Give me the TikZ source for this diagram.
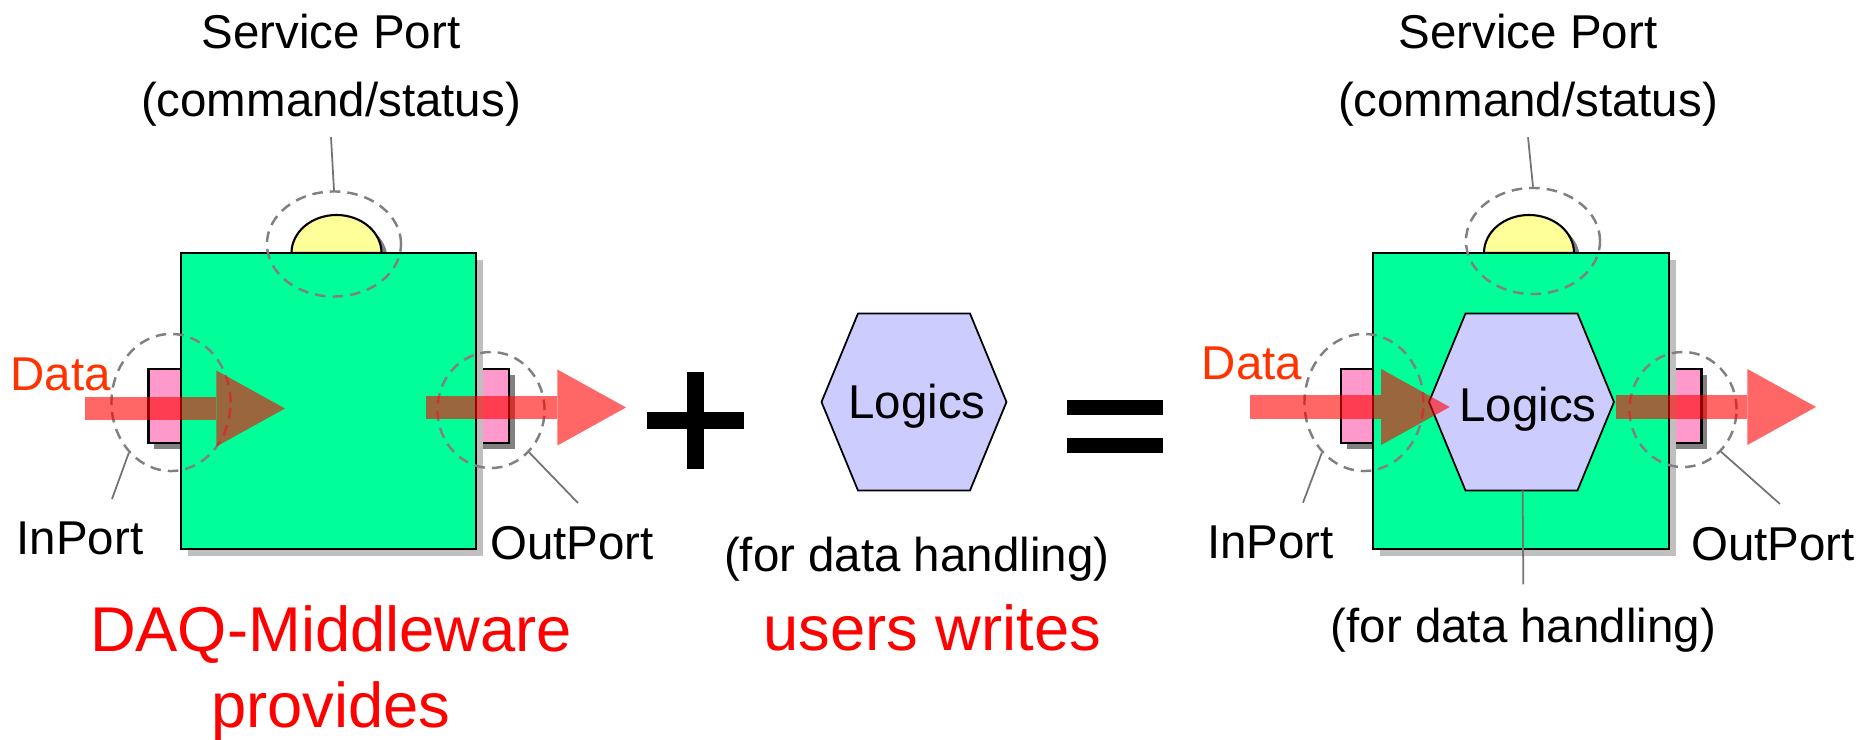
\documentclass[tikz,border=0pt]{standalone}
\usepackage{fontspec}
\setmainfont{Liberation Sans}
\usetikzlibrary{arrows.meta,shapes.geometric,shadows}

\definecolor{compgreen}{HTML}{00FF99}
\definecolor{portpink}{HTML}{FF99CC}
\definecolor{svcyellow}{HTML}{FFFF99}
\definecolor{logicblue}{HTML}{CCCCFF}
\definecolor{dataorange}{HTML}{FF3300}

\tikzset{
  comp/.style={draw=black,line width=0.6pt,fill=compgreen,inner sep=0pt,
    minimum width=2.95cm,minimum height=2.956cm,
    drop shadow={shadow xshift=2pt,shadow yshift=-2pt,fill=black!25,opacity=1}},
  port/.style={draw=black,line width=0.6pt,fill=portpink,inner sep=0pt,
    minimum width=0.33cm,minimum height=0.74cm,
    drop shadow={shadow xshift=1.7pt,shadow yshift=-1.7pt,fill=black!50,opacity=1}},
  svc/.style={draw=black,line width=0.6pt,fill=svcyellow,
    drop shadow={shadow xshift=1.7pt,shadow yshift=-1.7pt,fill=black!50,opacity=1}},
  logic/.style={draw=black,line width=0.5pt,fill=logicblue},
  ring/.style={ellipse,draw=black!50,line width=0.7pt,dash pattern=on 3pt off 2pt,inner sep=0pt},
  lead/.style={draw=black!55,line width=0.5pt},
  data/.style={red,opacity=0.6,line width=0.23cm,-{Triangle[length=0.686cm,width=0.76cm,line width=0pt]}},
  txt/.style={font=\fontsize{13.5}{19.5}\selectfont,inner sep=0pt,anchor=base,align=center},
  big/.style={font=\fontsize{18}{21.6}\selectfont,text=red,inner sep=0pt,anchor=base,align=center},
}

\begin{document}
\begin{tikzpicture}[x=0.01cm,y=-0.01cm]
\useasboundingbox (0,0) rectangle (1862,740);

% what DAQ-Middleware gives
\node[port] (ipA) at (165,406) {};
\node[port] (opA) at (492.5,406) {};
\draw[svc] (291.5,253) arc[start angle=180,end angle=360,x radius=45,y radius=38] -- cycle;
\node[comp] (A) at (328.3,400.8) {};
\node[ring,minimum width=1.34cm,minimum height=1.05cm] (svA) at (334,244) {};
\node[ring,minimum width=1.19cm,minimum height=1.37cm] (irA) at (171,402.5) {};
\node[ring,minimum width=1.07cm,minimum height=1.16cm] (orA) at (491,410) {};
\coordinate (diA) at (85,408.5);
\coordinate (dtA) at (285,408.5);
\coordinate (doA) at (426,407.5);
\coordinate (deA) at (626,407.5);
\draw[data] (diA) -- (dtA);
\draw[data] (doA) -- (deA);
\node[txt] (stA) at (331,116.7) {Service Port\\(command/status)};
\node[txt,text=dataorange] (dA) at (60.5,390.5) {Data};
\node[txt] (inA) at (80,555) {InPort};
\node[txt] (outA) at (572,560) {OutPort};
\coordinate (l1) at (112,499);
\coordinate (l2) at (578,503);
\draw[lead] (svA.north) -- ([yshift=-0.1cm]stA.south);
\draw[lead] (irA.230) -- (l1);
\draw[lead] (orA.312) -- (l2);
\node[big] (dqA) at (331,727.7) {DAQ-Middleware\\provides};

% plus
\fill (646.7,412.3) rectangle (744,429.3);
\fill (687.3,372.3) rectangle (704,469);

% what users write
\draw[logic] (914,402) +(-92.5,0) -- +(-56,-88.5) -- +(56,-88.5) -- +(92.5,0) -- +(56,88.5) -- +(-56,88.5) -- cycle;
\node[txt] (lgM) at (917,418.3) {Logics};
\node[txt] (fdM) at (916.7,571.7) {(for data handling)};
\node[big] (usM) at (932.5,650.7) {users writes};

% equals
\fill (1067.3,400) rectangle (1163.3,415);
\fill (1067.3,438.3) rectangle (1163.3,453.3);

% the whole component
\node[port] (ipB) at (1357.5,406) {};
\node[port] (opB) at (1685,406) {};
\draw[svc] (1484,253) arc[start angle=180,end angle=360,x radius=45,y radius=38] -- cycle;
\node[comp] (B) at (1521,400.8) {};
\draw[logic] (1521.5,402) +(-92.5,0) -- +(-56,-88.5) -- +(56,-88.5) -- +(92.5,0) -- +(56,88.5) -- +(-56,88.5) -- cycle;
\coordinate (hxB) at (1522.7,490.5);
\node[txt] (lgB) at (1528,421.7) {Logics};
\node[ring,minimum width=1.34cm,minimum height=1.06cm] (svB) at (1533,241) {};
\node[ring,minimum width=1.19cm,minimum height=1.37cm] (irB) at (1364,402.5) {};
\node[ring,minimum width=1.07cm,minimum height=1.15cm] (orB) at (1683,409.5) {};
\coordinate (diB) at (1249.6,407);
\coordinate (dtB) at (1449.7,407);
\coordinate (doB) at (1616.3,407);
\coordinate (deB) at (1816,407);
\draw[data] (diB) -- (dtB);
\draw[data] (doB) -- (deB);
\node[txt] (stB) at (1528,116.7) {Service Port\\(command/status)};
\node[txt,text=dataorange] (dB) at (1252,380) {Data};
\node[txt] (inB) at (1270.6,559) {InPort};
\node[txt] (outB) at (1773,561) {OutPort};
\node[txt] (fdB) at (1523.3,643) {(for data handling)};
\coordinate (l3) at (1303,502.7);
\coordinate (l4) at (1780,504);
\draw[lead] (svB.north) -- ([yshift=-0.1cm]stB.south);
\draw[lead] (irB.230) -- (l3);
\draw[lead] (orB.312) -- (l4);
\draw[lead] (hxB) -- ([yshift=0.235cm]fdB.north);
\end{tikzpicture}
\end{document}
